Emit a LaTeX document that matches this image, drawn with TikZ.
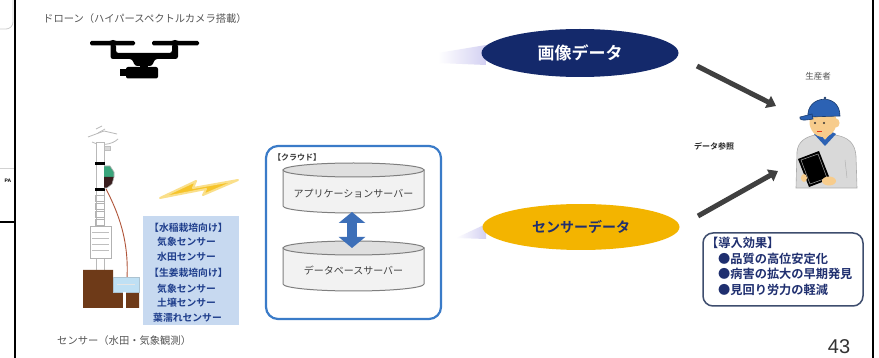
\documentclass[tikz,border=0pt]{standalone}
\usepackage{fontspec}
\newfontfamily\jp{Noto Sans CJK JP}[BoldFont={Noto Sans CJK JP Bold}]
\newfontfamily\lat{Liberation Sans}
\usetikzlibrary{arrows.meta,shapes.geometric}

\definecolor{navy}{HTML}{14296B}
\definecolor{gold}{HTML}{F3B400}
\definecolor{txtgray}{HTML}{555555}
\definecolor{boxblue}{HTML}{C7D9F0}
\definecolor{listblue}{HTML}{1F3E8C}
\definecolor{cloudblue}{HTML}{3A7BC8}
\definecolor{cylfill}{HTML}{F2F2F2}
\definecolor{cylline}{HTML}{7F7F7F}
\definecolor{arrowblue}{HTML}{3D6FB8}
\definecolor{darkarrow}{HTML}{404040}
\definecolor{lav}{HTML}{D3D0F2}
\definecolor{bolt}{HTML}{F6C42A}
\definecolor{soil}{HTML}{6E3A18}
\definecolor{water}{HTML}{BFE0F4}
\definecolor{cable}{HTML}{B0553A}
\definecolor{devgreen}{HTML}{3BA57C}
\definecolor{devdark}{HTML}{3A1E1E}
\definecolor{capblue}{HTML}{2C62B4}
\definecolor{skin}{HTML}{F7CC8C}
\definecolor{shirt}{HTML}{D9D9D9}
\definecolor{effline}{HTML}{3E4D6E}
\definecolor{efftext}{HTML}{1F2F6F}

\tikzset{
  lbl/.style={font=\jp\fontsize{10.3}{12}\selectfont, text=txtgray, inner sep=0pt},
  listtxt/.style={font=\jp\bfseries\fontsize{9.8}{11}\selectfont, text=listblue, inner sep=0pt, anchor=west},
  efftxt/.style={font=\jp\bfseries\fontsize{12.2}{14}\selectfont, text=efftext, inner sep=0pt, anchor=west},
  dataoval/.style={ellipse, minimum width=197pt, minimum height=48pt, inner sep=0pt},
  flowarrow/.style={darkarrow, line width=5pt, -{Triangle[width=13pt,length=9pt]}},
  cyl/.style={fill=cylfill, draw=cylline, line width=1pt},
  frameline/.style={black, line width=2pt}
}

\begin{document}
\begin{tikzpicture}[x=1pt,y=-1pt]
\useasboundingbox (0,0) rectangle (879,358);
\fill[white] (0,0) rectangle (879,358);

% window edges at the sides
\draw[gray!40, line width=0.8pt] (0,29) -- (6,29) arc[start angle=270, end angle=360, radius=7pt] -- (13,0);
\draw[gray!35, line width=0.8pt] (0,168) -- (15,168);
\node[font=\lat\bfseries\fontsize{5}{6}\selectfont, inner sep=0pt] (pa) at (8,181) {PA};
\draw[frameline] (0,222) -- (15,222);
\draw[frameline] (15,0) -- (15,358);
\draw[frameline] (873,0) -- (873,358);

% ---------- drone ----------
\node[lbl, anchor=west] (dronelbl) at (43,19) {ドローン（ハイパースペクトルカメラ搭載）};
\fill[black, rounded corners=1.5pt] (90,41) rectangle (135,45.5);
\fill[black, rounded corners=1.5pt] (152,41) rectangle (199,45.5);
\fill[black] (113,43) ellipse[x radius=4.5pt, y radius=3pt];
\fill[black] (175,43) ellipse[x radius=4.5pt, y radius=3pt];
\fill[black, rounded corners=2.5pt] (110.5,44) -- (110.5,59) -- (132,59) -- (135,66) -- (152,66) -- (155,59) -- (178,59) -- (178,44)
  -- (172,44) -- (172,53) -- (116,53) -- (116,44) -- cycle;
\fill[black] (140,64) rectangle (148,69);
\fill[black, rounded corners=2pt] (126,67) rectangle (158,78.5);
\fill[black] (120,69) rectangle (127,76.5);

% ---------- sensor station ----------
\draw[gray!55, line width=0.8pt] (88,137) -- (104,131) -- (117,134);
\draw[gray!55, line width=0.8pt] (92,142) .. controls (100,146) and (112,145) .. (118,139);
\draw[gray!55, line width=0.7pt] (96,129) -- (102,126) (98,133) -- (105,129);
\filldraw[fill=gray!30, draw=gray!50] (104,146) rectangle (110,150);
\filldraw[fill=white, draw=gray!55, line width=0.7pt] (96,142) rectangle (104,270);
\fill[black] (95,162) rectangle (105,165);
\fill[black] (95,188) rectangle (105,191);
\fill[devgreen] (104,166) -- (110,166) -- (114,172) -- (114,177) -- (104,177) -- cycle;
\fill[devdark] (104,177) -- (114,177) -- (112,184) -- (107,188) -- (104,188) -- cycle;
\draw[gray!60, line width=0.6pt] (104,166) -- (110,166) -- (114,172) -- (114,177) -- (112,184) -- (107,188) -- (104,188);
\foreach \yy in {195,203,211,219}
  \draw[gray!60, line width=0.6pt] (95.5,\yy) rectangle (104.5,\yy+6);
\filldraw[fill=white, draw=gray!60, line width=0.7pt] (90,226) rectangle (111,258);
\foreach \yy in {232,238,244,250}
  \draw[gray!50, line width=0.5pt] (92,\yy) -- (109,\yy);
\draw[cable, line width=0.9pt] (106,189) .. controls (118,212) and (129,240) .. (127,278);
\fill[soil] (83,270) -- (113,270) -- (113,292) -- (139,292) -- (139,308) -- (83,308) -- cycle;
\filldraw[fill=water, draw=water!70!gray, line width=0.5pt] (113,277) rectangle (139,292);
\draw[white!80!gray, line width=0.5pt] (117,284) -- (135,284);
\fill[white] (122.5,292) rectangle (126,308);

% lightning link
\fill[bolt, draw=bolt!55!white, line width=2pt, line join=round]
  (160,198) -- (196,181) -- (193,188) -- (238,180) -- (203,195) -- (206,189) -- cycle;

% sensor list
\fill[boxblue] (143,216) rectangle (239,325);
\node[listtxt] (l1) at (149,228) {【水稲栽培向け】};
\node[listtxt] (l2) at (157,242) {気象センサー};
\node[listtxt] (l3) at (157,257) {水田センサー};
\node[listtxt] (l4) at (149,273) {【生姜栽培向け】};
\node[listtxt] (l5) at (157,289) {気象センサー};
\node[listtxt] (l6) at (157,303) {土壌センサー};
\node[listtxt] (l7) at (153,318) {葉濡れセンサー};
\node[lbl, anchor=west] (sensorlbl) at (57,341) {センサー（水田・気象観測）};

% ---------- cloud ----------
\draw[cloudblue, line width=2.2pt, rounded corners=12pt, fill=white] (266,146) rectangle (441,319);
\node[font=\jp\bfseries\fontsize{8}{10}\selectfont, text=black!80, inner sep=0pt, anchor=west] (cloudlbl) at (273,157) {【クラウド】};

% application server cylinder
\path[cyl] (283,170) -- (283,206) arc[start angle=180, end angle=360, x radius=70.5pt, y radius=7pt] -- (424,170) -- cycle;
\filldraw[fill=cylfill!92!black, draw=cylline, line width=1pt] (353.5,170) ellipse[x radius=70.5pt, y radius=7pt];
\node[font=\jp\fontsize{10}{12}\selectfont, text=black!75, inner sep=0pt] (app) at (353.5,194) {アプリケーションサーバー};

% database server cylinder
\path[cyl] (283,248) -- (283,284) arc[start angle=180, end angle=360, x radius=70.5pt, y radius=7pt] -- (424,248) -- cycle;
\filldraw[fill=cylfill!92!black, draw=cylline, line width=1pt] (353.5,248) ellipse[x radius=70.5pt, y radius=7pt];
\node[font=\jp\fontsize{10}{12}\selectfont, text=black!75, inner sep=0pt] (db) at (353.5,271) {データベースサーバー};

\coordinate (appbot) at (352,212);
\coordinate (dbtop) at (352,248);
\draw[arrowblue, line width=10pt, {Triangle[width=26pt,length=11pt]}-{Triangle[width=26pt,length=11pt]}] (appbot) -- (dbtop);

% ---------- data ovals ----------
\shade[left color=white, right color=lav] (438,53) -- (486,45) -- (486,65) -- (438,63) -- cycle;
\node[dataoval, fill=navy, text=white, font=\jp\bfseries\fontsize{17}{20}\selectfont] (img) at (580,53) {画像データ};

\shade[left color=white, right color=lav] (456,238) -- (486,224) -- (486,239) -- cycle;
\node[dataoval, minimum height=46pt, fill=gold, text=efftext, font=\jp\bfseries\fontsize{14}{17}\selectfont] (sens) at (581,227) {センサーデータ};

% ---------- producer ----------
\node[font=\jp\fontsize{8.5}{10}\selectfont, text=txtgray, inner sep=0pt] (prodlbl) at (818,76) {生産者};
\node[font=\jp\bfseries\fontsize{8}{10}\selectfont, text=black!85, inner sep=0pt] (ref) at (714,146) {データ参照};

% shirt
\filldraw[fill=shirt, draw=gray!65, line width=0.6pt] (796,188) -- (797,152) .. controls (798,141) and (806,137) .. (815,135)
  -- (835,135) .. controls (848,137) and (855,143) .. (856,156) -- (857,188) -- cycle;
\fill[skin] (819,130) rectangle (831,139);
\fill[capblue] (814,134) -- (825,146) -- (836,134) -- (832,132) -- (825,140) -- (818,132) -- cycle;
\draw[gray!60, line width=0.5pt] (845,160) -- (847,178);
% head
\fill[skin] (836,123) ellipse[x radius=3.5pt, y radius=4.5pt];
\fill[skin] (823,122) ellipse[x radius=13.5pt, y radius=15pt];
\fill[black!80] (815,123) circle[radius=1.1pt];
\fill[black!80] (824,123) circle[radius=1.1pt];
\draw[red!60!brown, line width=0.7pt] (817,131) -- (822,131);
% cap
\filldraw[fill=capblue, draw=capblue!60!black, line width=0.6pt] (808,117) .. controls (806,95) and (840,92) .. (840,116) -- cycle;
\filldraw[fill=capblue, draw=capblue!60!black, line width=0.6pt] (812,114) -- (800,117) .. controls (799,120) and (802,121) .. (813,119) -- cycle;
\fill[capblue!60!black] (825,98) circle[radius=1.3pt];
% tablet and hands
\fill[black] (798,159) -- (819,151) -- (830,179) -- (809,187) -- cycle;
\draw[gray!70, line width=0.5pt] (801,160) -- (818,154) -- (827,178) -- (810,184) -- cycle;
\fill[skin] (829,181) ellipse[x radius=7pt, y radius=4.5pt];
\fill[skin] (804,178) ellipse[x radius=3pt, y radius=4pt];

% arrows to the producer
\coordinate (imgout) at (697,66);
\coordinate (imgin) at (776,106);
\coordinate (sensout) at (698,216);
\coordinate (sensin) at (778,171);
\draw[flowarrow] (imgout) -- (imgin);
\draw[flowarrow] (sensout) -- (sensin);

% effects box
\draw[effline, line width=1.5pt, rounded corners=10pt, fill=white] (703,233) rectangle (863,306);
\node[efftxt] (e0) at (706,243) {【導入効果】};
\node[efftxt] (e1) at (718,259) {●品質の高位安定化};
\node[efftxt] (e2) at (718,274) {●病害の拡大の早期発見};
\node[efftxt] (e3) at (718,290) {●見回り労力の軽減};

% page number
\node[font=\lat\fontsize{20}{22}\selectfont, text=black!80, inner sep=0pt] (pageno) at (839,347) {43};
\end{tikzpicture}
\end{document}
